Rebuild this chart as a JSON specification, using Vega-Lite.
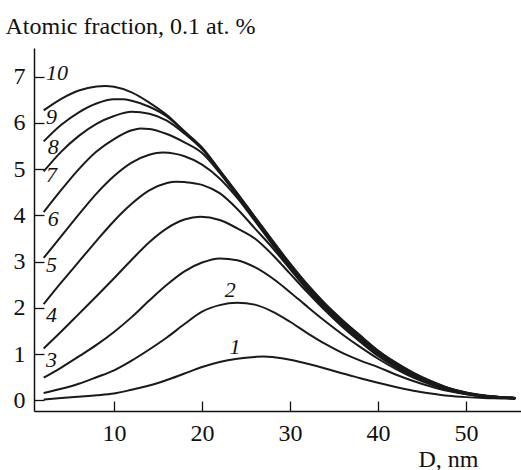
{
  "$schema": "https://vega.github.io/schema/vega-lite/v6.json",
  "width": 487,
  "height": 363,
  "autosize": {"type": "none"},
  "padding": {"left": 34, "top": 48, "right": 0, "bottom": 59},
  "background": "white",
  "config": {
    "view": {"stroke": null},
    "font": "'Liberation Serif', 'DejaVu Serif', serif",
    "axis": {
      "grid": false,
      "labelFont": "'Liberation Serif', 'DejaVu Serif', serif",
      "labelFontSize": 24,
      "labelColor": "#111",
      "titleFont": "'Liberation Serif', 'DejaVu Serif', serif",
      "titleFontSize": 24,
      "titleFontWeight": "normal",
      "titleColor": "#111",
      "domainColor": "#111",
      "domainWidth": 1.5,
      "tickColor": "#111",
      "tickWidth": 1.3,
      "tickSize": -10
    }
  },
  "datasets": {
    "curves": [
      {"c":1,"D":2,"v":0.02},{"c":1,"D":4,"v":0.05},{"c":1,"D":6,"v":0.08},{"c":1,"D":8,"v":0.11},{"c":1,"D":10,"v":0.15},{"c":1,"D":12,"v":0.23},{"c":1,"D":14,"v":0.32},{"c":1,"D":16,"v":0.44},{"c":1,"D":18,"v":0.58},{"c":1,"D":20,"v":0.72},{"c":1,"D":22,"v":0.83},{"c":1,"D":24,"v":0.9},{"c":1,"D":26,"v":0.94},{"c":1,"D":27,"v":0.95},{"c":1,"D":28,"v":0.94},{"c":1,"D":30,"v":0.88},{"c":1,"D":32,"v":0.79},{"c":1,"D":34,"v":0.69},{"c":1,"D":36,"v":0.58},{"c":1,"D":38,"v":0.48},{"c":1,"D":40,"v":0.38},{"c":1,"D":42,"v":0.29},{"c":1,"D":44,"v":0.21},{"c":1,"D":46,"v":0.15},{"c":1,"D":48,"v":0.1},{"c":1,"D":50,"v":0.07},{"c":1,"D":52,"v":0.05},{"c":1,"D":54,"v":0.04},{"c":1,"D":55.6,"v":0.03},
      {"c":2,"D":2,"v":0.16},{"c":2,"D":4,"v":0.25},{"c":2,"D":6,"v":0.36},{"c":2,"D":8,"v":0.5},{"c":2,"D":10,"v":0.65},{"c":2,"D":12,"v":0.86},{"c":2,"D":14,"v":1.1},{"c":2,"D":16,"v":1.36},{"c":2,"D":18,"v":1.65},{"c":2,"D":20,"v":1.92},{"c":2,"D":22,"v":2.06},{"c":2,"D":24,"v":2.11},{"c":2,"D":26,"v":2.07},{"c":2,"D":28,"v":1.92},{"c":2,"D":30,"v":1.7},{"c":2,"D":32,"v":1.45},{"c":2,"D":34,"v":1.22},{"c":2,"D":36,"v":1.02},{"c":2,"D":38,"v":0.86},{"c":2,"D":40,"v":0.72},{"c":2,"D":42,"v":0.56},{"c":2,"D":44,"v":0.42},{"c":2,"D":46,"v":0.3},{"c":2,"D":48,"v":0.2},{"c":2,"D":50,"v":0.13},{"c":2,"D":52,"v":0.08},{"c":2,"D":54,"v":0.06},{"c":2,"D":55.6,"v":0.04},
      {"c":3,"D":2,"v":0.49},{"c":3,"D":4,"v":0.71},{"c":3,"D":6,"v":0.95},{"c":3,"D":8,"v":1.2},{"c":3,"D":10,"v":1.48},{"c":3,"D":12,"v":1.8},{"c":3,"D":14,"v":2.16},{"c":3,"D":16,"v":2.5},{"c":3,"D":18,"v":2.79},{"c":3,"D":20,"v":2.98},{"c":3,"D":22,"v":3.07},{"c":3,"D":24,"v":3.03},{"c":3,"D":26,"v":2.88},{"c":3,"D":28,"v":2.64},{"c":3,"D":30,"v":2.34},{"c":3,"D":32,"v":2.02},{"c":3,"D":34,"v":1.71},{"c":3,"D":36,"v":1.42},{"c":3,"D":38,"v":1.15},{"c":3,"D":40,"v":0.9},{"c":3,"D":42,"v":0.68},{"c":3,"D":44,"v":0.49},{"c":3,"D":46,"v":0.34},{"c":3,"D":48,"v":0.22},{"c":3,"D":50,"v":0.14},{"c":3,"D":52,"v":0.09},{"c":3,"D":54,"v":0.06},{"c":3,"D":55.6,"v":0.04},
      {"c":4,"D":2,"v":1.12},{"c":4,"D":4,"v":1.49},{"c":4,"D":6,"v":1.87},{"c":4,"D":8,"v":2.25},{"c":4,"D":10,"v":2.64},{"c":4,"D":12,"v":3.04},{"c":4,"D":14,"v":3.42},{"c":4,"D":16,"v":3.72},{"c":4,"D":18,"v":3.91},{"c":4,"D":19.8,"v":3.97},{"c":4,"D":22,"v":3.9},{"c":4,"D":24,"v":3.72},{"c":4,"D":26,"v":3.5},{"c":4,"D":28,"v":3.15},{"c":4,"D":30,"v":2.74},{"c":4,"D":32,"v":2.33},{"c":4,"D":34,"v":1.94},{"c":4,"D":36,"v":1.58},{"c":4,"D":38,"v":1.26},{"c":4,"D":40,"v":0.96},{"c":4,"D":42,"v":0.72},{"c":4,"D":44,"v":0.52},{"c":4,"D":46,"v":0.36},{"c":4,"D":48,"v":0.23},{"c":4,"D":50,"v":0.14},{"c":4,"D":52,"v":0.09},{"c":4,"D":54,"v":0.06},{"c":4,"D":55.6,"v":0.05},
      {"c":5,"D":2,"v":2.08},{"c":5,"D":4,"v":2.55},{"c":5,"D":6,"v":3.0},{"c":5,"D":8,"v":3.45},{"c":5,"D":10,"v":3.88},{"c":5,"D":12,"v":4.25},{"c":5,"D":14,"v":4.54},{"c":5,"D":16,"v":4.7},{"c":5,"D":17,"v":4.73},{"c":5,"D":18,"v":4.72},{"c":5,"D":20,"v":4.66},{"c":5,"D":22,"v":4.48},{"c":5,"D":24,"v":4.14},{"c":5,"D":26,"v":3.72},{"c":5,"D":28,"v":3.3},{"c":5,"D":30,"v":2.84},{"c":5,"D":32,"v":2.38},{"c":5,"D":34,"v":1.97},{"c":5,"D":36,"v":1.61},{"c":5,"D":38,"v":1.28},{"c":5,"D":40,"v":0.98},{"c":5,"D":42,"v":0.74},{"c":5,"D":44,"v":0.53},{"c":5,"D":46,"v":0.37},{"c":5,"D":48,"v":0.24},{"c":5,"D":50,"v":0.15},{"c":5,"D":52,"v":0.1},{"c":5,"D":54,"v":0.06},{"c":5,"D":55.6,"v":0.05},
      {"c":6,"D":2,"v":3.08},{"c":6,"D":4,"v":3.55},{"c":6,"D":6,"v":4.02},{"c":6,"D":8,"v":4.47},{"c":6,"D":10,"v":4.85},{"c":6,"D":12,"v":5.14},{"c":6,"D":14,"v":5.31},{"c":6,"D":15.5,"v":5.36},{"c":6,"D":17,"v":5.33},{"c":6,"D":18,"v":5.28},{"c":6,"D":20,"v":5.1},{"c":6,"D":22,"v":4.8},{"c":6,"D":24,"v":4.38},{"c":6,"D":26,"v":3.88},{"c":6,"D":28,"v":3.37},{"c":6,"D":30,"v":2.87},{"c":6,"D":32,"v":2.41},{"c":6,"D":34,"v":2.0},{"c":6,"D":36,"v":1.64},{"c":6,"D":38,"v":1.31},{"c":6,"D":40,"v":1.01},{"c":6,"D":42,"v":0.76},{"c":6,"D":44,"v":0.55},{"c":6,"D":46,"v":0.38},{"c":6,"D":48,"v":0.25},{"c":6,"D":50,"v":0.15},{"c":6,"D":52,"v":0.1},{"c":6,"D":54,"v":0.07},{"c":6,"D":55.6,"v":0.05},
      {"c":7,"D":2,"v":4.07},{"c":7,"D":4,"v":4.55},{"c":7,"D":6,"v":5.0},{"c":7,"D":8,"v":5.38},{"c":7,"D":10,"v":5.65},{"c":7,"D":12,"v":5.84},{"c":7,"D":13,"v":5.88},{"c":7,"D":14,"v":5.87},{"c":7,"D":16,"v":5.76},{"c":7,"D":18,"v":5.58},{"c":7,"D":20,"v":5.35},{"c":7,"D":22,"v":4.92},{"c":7,"D":24,"v":4.42},{"c":7,"D":26,"v":3.91},{"c":7,"D":28,"v":3.4},{"c":7,"D":30,"v":2.9},{"c":7,"D":32,"v":2.44},{"c":7,"D":34,"v":2.03},{"c":7,"D":36,"v":1.67},{"c":7,"D":38,"v":1.34},{"c":7,"D":40,"v":1.03},{"c":7,"D":42,"v":0.78},{"c":7,"D":44,"v":0.57},{"c":7,"D":46,"v":0.39},{"c":7,"D":48,"v":0.25},{"c":7,"D":50,"v":0.16},{"c":7,"D":52,"v":0.1},{"c":7,"D":54,"v":0.07},{"c":7,"D":55.6,"v":0.05},
      {"c":8,"D":2,"v":4.95},{"c":8,"D":4,"v":5.38},{"c":8,"D":6,"v":5.72},{"c":8,"D":8,"v":5.98},{"c":8,"D":10,"v":6.15},{"c":8,"D":12,"v":6.24},{"c":8,"D":14,"v":6.2},{"c":8,"D":16,"v":6.05},{"c":8,"D":18,"v":5.77},{"c":8,"D":20,"v":5.43},{"c":8,"D":22,"v":4.96},{"c":8,"D":24,"v":4.45},{"c":8,"D":26,"v":3.94},{"c":8,"D":28,"v":3.43},{"c":8,"D":30,"v":2.93},{"c":8,"D":32,"v":2.47},{"c":8,"D":34,"v":2.06},{"c":8,"D":36,"v":1.7},{"c":8,"D":38,"v":1.37},{"c":8,"D":40,"v":1.06},{"c":8,"D":42,"v":0.8},{"c":8,"D":44,"v":0.58},{"c":8,"D":46,"v":0.4},{"c":8,"D":48,"v":0.26},{"c":8,"D":50,"v":0.16},{"c":8,"D":52,"v":0.1},{"c":8,"D":54,"v":0.07},{"c":8,"D":55.6,"v":0.05},
      {"c":9,"D":2,"v":5.6},{"c":9,"D":4,"v":5.96},{"c":9,"D":6,"v":6.23},{"c":9,"D":8,"v":6.42},{"c":9,"D":10,"v":6.51},{"c":9,"D":11,"v":6.51},{"c":9,"D":12,"v":6.48},{"c":9,"D":14,"v":6.35},{"c":9,"D":16,"v":6.14},{"c":9,"D":18,"v":5.8},{"c":9,"D":20,"v":5.45},{"c":9,"D":22,"v":4.97},{"c":9,"D":24,"v":4.47},{"c":9,"D":26,"v":3.96},{"c":9,"D":28,"v":3.45},{"c":9,"D":30,"v":2.95},{"c":9,"D":32,"v":2.49},{"c":9,"D":34,"v":2.08},{"c":9,"D":36,"v":1.72},{"c":9,"D":38,"v":1.39},{"c":9,"D":40,"v":1.07},{"c":9,"D":42,"v":0.81},{"c":9,"D":44,"v":0.59},{"c":9,"D":46,"v":0.41},{"c":9,"D":48,"v":0.27},{"c":9,"D":50,"v":0.17},{"c":9,"D":52,"v":0.1},{"c":9,"D":54,"v":0.07},{"c":9,"D":55.6,"v":0.05},
      {"c":10,"D":2,"v":6.27},{"c":10,"D":4,"v":6.52},{"c":10,"D":6,"v":6.7},{"c":10,"D":8,"v":6.79},{"c":10,"D":9,"v":6.8},{"c":10,"D":10,"v":6.78},{"c":10,"D":12,"v":6.66},{"c":10,"D":14,"v":6.44},{"c":10,"D":16,"v":6.17},{"c":10,"D":18,"v":5.82},{"c":10,"D":20,"v":5.47},{"c":10,"D":22,"v":4.98},{"c":10,"D":24,"v":4.48},{"c":10,"D":26,"v":3.97},{"c":10,"D":28,"v":3.46},{"c":10,"D":30,"v":2.96},{"c":10,"D":32,"v":2.5},{"c":10,"D":34,"v":2.09},{"c":10,"D":36,"v":1.73},{"c":10,"D":38,"v":1.4},{"c":10,"D":40,"v":1.08},{"c":10,"D":42,"v":0.82},{"c":10,"D":44,"v":0.6},{"c":10,"D":46,"v":0.42},{"c":10,"D":48,"v":0.27},{"c":10,"D":50,"v":0.17},{"c":10,"D":52,"v":0.11},{"c":10,"D":54,"v":0.07},{"c":10,"D":55.6,"v":0.05}
    ],
    "labels": [
      {"t":"10","D":3.5,"v":7.07},
      {"t":"9","D":2.9,"v":6.13},
      {"t":"8","D":3.1,"v":5.48},
      {"t":"7","D":2.9,"v":4.87},
      {"t":"6","D":3.1,"v":3.93},
      {"t":"5","D":2.9,"v":2.92},
      {"t":"4","D":2.9,"v":1.84},
      {"t":"3","D":2.9,"v":0.87},
      {"t":"2","D":23.2,"v":2.38},
      {"t":"1","D":23.75,"v":1.15}
    ]
  },
  "layer": [
    {
      "data": {"name": "curves"},
      "mark": {"type": "line", "interpolate": "monotone", "color": "#1a1a1a", "strokeWidth": 2},
      "encoding": {
        "x": {
          "field": "D", "type": "quantitative",
          "scale": {"domain": [0.9, 56.25], "nice": false, "zero": false},
          "axis": {
            "values": [10, 20, 30, 40, 50],
            "labelPadding": 20,
            "title": "D, nm",
            "titleAlign": "right",
            "titleBaseline": "alphabetic",
            "titleX": 444,
            "titleY": 55
          }
        },
        "y": {
          "field": "v", "type": "quantitative",
          "scale": {"domain": [-0.23, 7.62], "nice": false, "zero": false},
          "axis": {
            "values": [0, 1, 2, 3, 4, 5, 6, 7],
            "labelPadding": 19,
            "title": "Atomic fraction, 0.1 at. %",
            "titleAngle": 0,
            "titleAlign": "left",
            "titleBaseline": "alphabetic",
            "titleX": -29,
            "titleY": -15
          }
        },
        "detail": {"field": "c", "type": "nominal"}
      }
    },
    {
      "data": {"name": "labels"},
      "mark": {"type": "text", "font": "'Liberation Serif', 'DejaVu Serif', serif", "fontStyle": "italic", "fontSize": 22, "color": "#111", "align": "center", "baseline": "middle"},
      "encoding": {
        "x": {"field": "D", "type": "quantitative"},
        "y": {"field": "v", "type": "quantitative"},
        "text": {"field": "t"}
      }
    }
  ]
}
